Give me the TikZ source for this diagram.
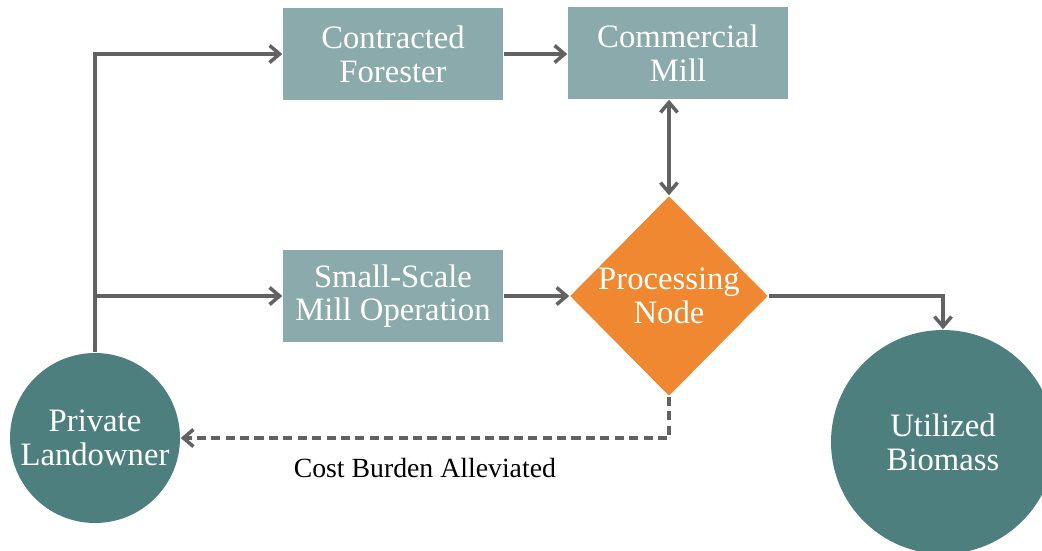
\documentclass[tikz,border=0pt]{standalone}
\usepackage{fontspec}
\setmainfont{Liberation Serif}
\usepackage{xcolor}
\usetikzlibrary{positioning, arrows.meta, shapes.geometric, calc}

\definecolor{boxgray}{RGB}{139,170,171}
\definecolor{tealdark}{RGB}{78,127,127}
\definecolor{procorange}{RGB}{239,136,48}
\definecolor{linegray}{RGB}{98,98,98}

\begin{document}
\begin{tikzpicture}[
    element/.style={rectangle, fill=boxgray, minimum height=0.92cm, minimum width=2.2cm, align=center, text=white, font=\fontsize{9.3}{9.6}\selectfont},
    hub/.style={diamond, fill=procorange, minimum width=1.98cm, minimum height=2cm, inner sep=0pt, align=center, text=white, font=\fontsize{9.3}{9.6}\selectfont},
    party/.style={circle, fill=tealdark, inner sep=0pt, align=center, text=white, font=\fontsize{9.3}{9.6}\selectfont},
    arrow/.style={-{Straight Barb[length=1mm, width=1.7mm]}, line width=1pt, draw=linegray}
]
\useasboundingbox (0,0) rectangle (10.42,5.5);

\node[element] (forester) at (3.93, 4.96) {Contracted\\Forester};
\node[element] (mill) at (6.78, 4.97) {Commercial\\Mill};
\node[element] (smallmill) at (3.93, 2.54) {Small-Scale\\Mill Operation};
\node[hub] (proc) at (6.69, 2.54) {Processing\\Node};
\node[party, minimum size=1.7cm] (owner) at (0.95, 1.12) {Private\\Landowner};
\node[party, minimum size=2.24cm] (biomass) at (9.43, 1.08) {Utilized\\Biomass};

% landowner feeds both the forester and the small mill
\draw[arrow] (owner.north) |- (forester.west);
\draw[arrow] (owner.north |- smallmill.west) -- (smallmill.west);

\draw[arrow] (forester.east) -- (forester.east -| mill.west);
\draw[arrow, {Straight Barb[length=1mm, width=1.7mm]}-{Straight Barb[length=1mm, width=1.7mm]}] (proc.north |- mill.south) -- (proc.north);
\draw[arrow] (smallmill.east) -- (proc.west);
\draw[arrow] (proc.east) -| (biomass.north);

% return path back to the landowner
\draw[arrow, dash pattern=on 2.6pt off 1.5pt] (proc.south) |- (owner.east)
    node[pos=0.75, below=2pt, font=\fontsize{7.9}{9}\selectfont] (costlabel) {Cost Burden Alleviated};

\end{tikzpicture}
\end{document}
